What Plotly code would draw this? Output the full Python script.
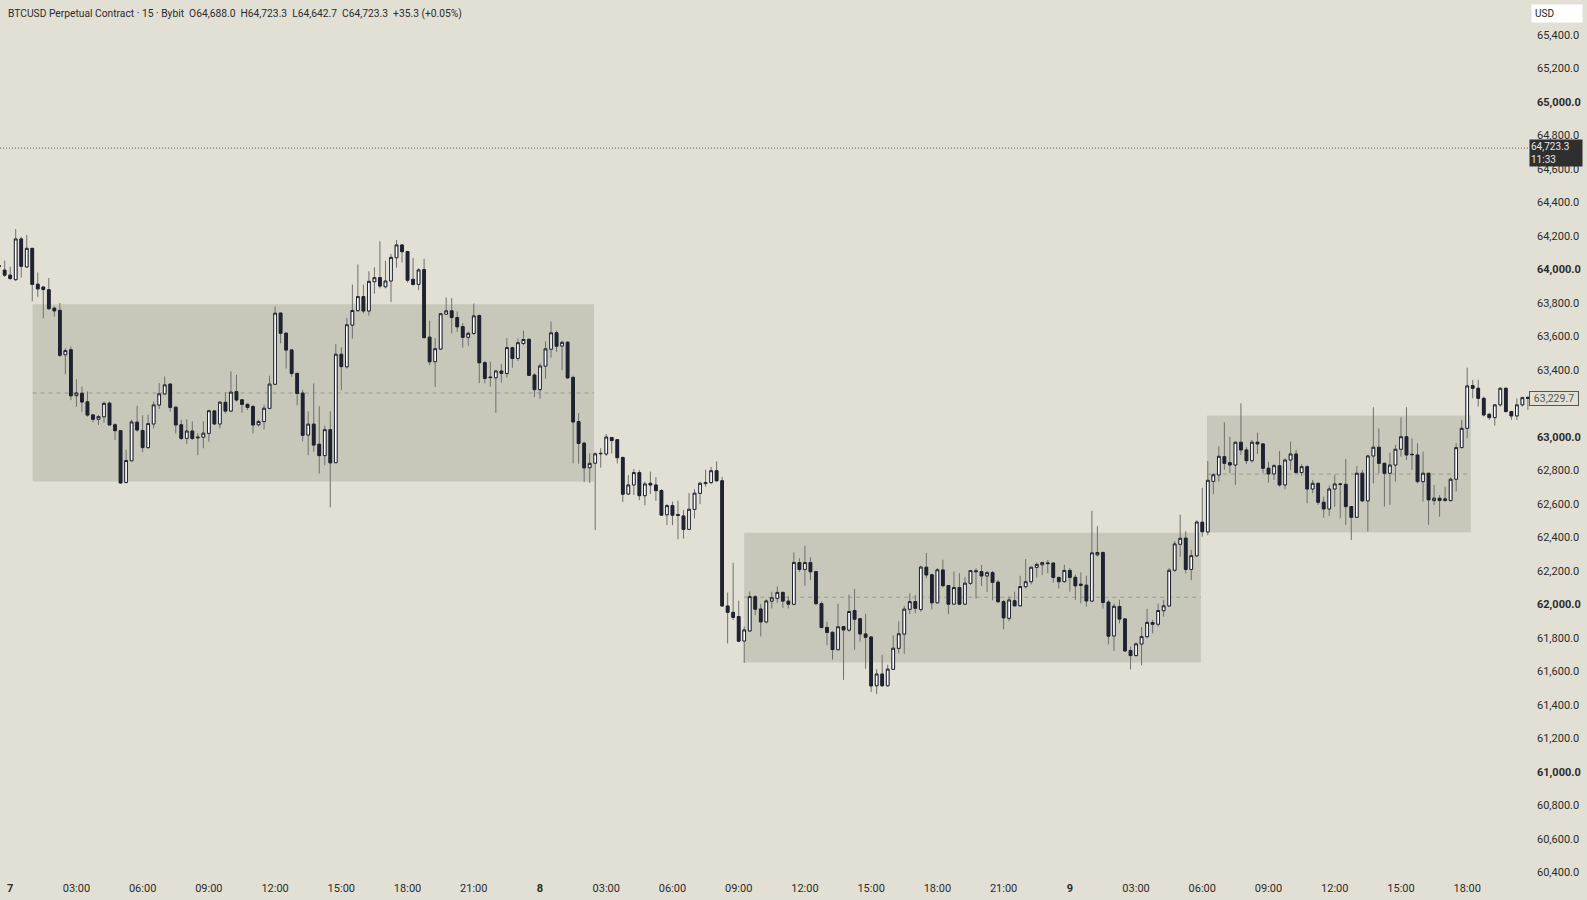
import pandas as pd
import plotly.graph_objects as go

# 15 minute BTCUSD candles (Oct 6 23:30 -> Oct 9 20:45)
open_ = [64016, 63995, 63965, 63938, 64181, 64014, 64125, 63911, 63894, 63878,
         63768, 63755, 63490, 63520, 63246, 63260, 63209, 63131, 63105, 63120,
         63201, 63072, 63037, 62728, 62857, 63088, 63038, 62936, 63077, 63190,
         63256, 63315, 63177, 63072, 62991, 63035, 62994, 62998, 63021, 63155,
         63077, 63206, 63154, 63270, 63221, 63194, 63181, 63072, 63091, 63170,
         63314, 63739, 63619, 63519, 63379, 63261, 63011, 63076, 62956, 62888,
         63043, 62846, 63493, 63418, 63667, 63753, 63837, 63751, 63926, 63950,
         63896, 63930, 64069, 64145, 64106, 63940, 63910, 63998, 63595, 63449,
         63524, 63732, 63752, 63712, 63658, 63594, 63617, 63724, 63443, 63357,
         63353, 63393, 63378, 63532, 63468, 63557, 63582, 63369, 63282, 63422,
         63523, 63621, 63542, 63565, 63355, 63091, 62962, 62816, 62843, 62902,
         62898, 62996, 62983, 62877, 62659, 62713, 62787, 62649, 62723, 62713,
         62680, 62535, 62590, 62536, 62528, 62448, 62567, 62663, 62721, 62727,
         62798, 62738, 61991, 61953, 61928, 61782, 61842, 62046, 61973, 61896,
         62020, 62036, 62072, 62020, 62001, 62250, 62209, 62250, 62196, 62005,
         61863, 61834, 61730, 61868, 61847, 61964, 61915, 61824, 61806, 61515,
         61585, 61515, 61613, 61738, 61823, 61971, 62017, 61970, 62222, 62177,
         62010, 62206, 62113, 62002, 62101, 62002, 62126, 62195, 62196, 62170,
         62190, 62133, 62017, 61917, 62022, 61992, 62106, 62136, 62221, 62237,
         62248, 62247, 62161, 62136, 62203, 62162, 62121, 62115, 62020, 62296,
         62310, 62014, 61812, 61988, 61914, 61725, 61695, 61764, 61808, 61892,
         61882, 61963, 61991, 62204, 62359, 62396, 62209, 62290, 62491, 62433,
         62734, 62773, 62882, 62846, 62832, 62968, 62922, 62858, 62968, 62958,
         62813, 62779, 62828, 62713, 62862, 62898, 62787, 62822, 62689, 62723,
         62610, 62570, 62689, 62719, 62717, 62584, 62520, 62783, 62618, 62886,
         62938, 62842, 62783, 62832, 62926, 63001, 62896, 62892, 62733, 62783,
         62620, 62634, 62620, 62620, 62747, 62936, 63051, 63306, 63290, 63230,
         63135, 63115, 63191, 63290, 63151, 63125, 63191, 63236]
high = [64036, 64052, 64015, 64240, 64195, 64205, 64125, 63981, 63898, 63948,
        63778, 63799, 63529, 63540, 63344, 63300, 63271, 63131, 63131, 63211,
        63212, 63082, 63039, 62924, 63103, 63186, 63129, 63133, 63212, 63321,
        63360, 63321, 63181, 63102, 63106, 63092, 63022, 63093, 63162, 63155,
        63212, 63265, 63392, 63370, 63221, 63200, 63191, 63102, 63191, 63365,
        63778, 63739, 63619, 63519, 63379, 63281, 63152, 63319, 63183, 63067,
        63153, 63553, 63534, 63710, 63909, 64029, 63908, 63988, 64012, 64167,
        64051, 64091, 64175, 64149, 64110, 64067, 64006, 64063, 63693, 63590,
        63739, 63832, 63828, 63748, 63678, 63628, 63796, 63730, 63453, 63449,
        63399, 63435, 63589, 63538, 63588, 63634, 63588, 63379, 63439, 63569,
        63688, 63634, 63574, 63569, 63365, 63142, 62972, 62902, 62907, 62932,
        63017, 62996, 62983, 62883, 62773, 62808, 62803, 62733, 62793, 62759,
        62688, 62600, 62614, 62619, 62564, 62665, 62688, 62733, 62804, 62820,
        62854, 62760, 62071, 62249, 62022, 61868, 62077, 62056, 62003, 62031,
        62076, 62107, 62076, 62050, 62311, 62276, 62350, 62282, 62200, 62017,
        61897, 61838, 62004, 61868, 62058, 62093, 61919, 61945, 61810, 61614,
        61700, 61640, 61816, 61899, 61992, 62067, 62057, 62231, 62307, 62183,
        62217, 62267, 62117, 62197, 62187, 62163, 62206, 62216, 62236, 62200,
        62200, 62147, 62027, 62047, 62076, 62171, 62271, 62226, 62250, 62256,
        62266, 62251, 62167, 62237, 62217, 62178, 62192, 62172, 62559, 62467,
        62317, 62028, 62005, 62028, 61918, 61749, 61773, 61865, 61973, 61908,
        62005, 62028, 62218, 62377, 62536, 62436, 62326, 62502, 62696, 62856,
        62784, 62944, 63087, 63001, 62972, 63200, 62938, 62982, 63025, 62962,
        62852, 62838, 62916, 62872, 62972, 62922, 62836, 62832, 62743, 62727,
        62643, 62709, 62773, 62723, 62868, 62584, 62826, 62803, 62892, 63177,
        63051, 62846, 62906, 62952, 63117, 63177, 62992, 62962, 62912, 62783,
        62713, 62654, 62703, 62757, 62962, 63101, 63413, 63340, 63340, 63240,
        63141, 63195, 63294, 63294, 63155, 63230, 63240, 63240]
low = [64006, 63955, 63935, 63930, 63950, 64010, 63809, 63836, 63707, 63757,
       63718, 63477, 63374, 63219, 63179, 63149, 63120, 63087, 63071, 63084,
       63071, 62981, 62721, 62722, 62857, 63031, 62908, 62928, 63051, 63166,
       63250, 63150, 63020, 62981, 62957, 62981, 62892, 62932, 62971, 63071,
       63051, 63140, 63150, 63210, 63144, 63160, 63020, 63062, 63044, 63164,
       63310, 63558, 63408, 63358, 63188, 62973, 62891, 62911, 62781, 62831,
       62580, 62846, 63278, 63408, 63587, 63747, 63737, 63723, 63855, 63886,
       63886, 63805, 64010, 64041, 63921, 63902, 63876, 63592, 63428, 63298,
       63518, 63728, 63617, 63627, 63532, 63544, 63607, 63321, 63319, 63299,
       63144, 63323, 63354, 63413, 63453, 63547, 63367, 63238, 63228, 63348,
       63473, 63507, 63397, 63348, 62842, 62840, 62730, 62725, 62444, 62816,
       62886, 62901, 62842, 62611, 62653, 62653, 62622, 62592, 62659, 62618,
       62533, 62473, 62473, 62389, 62393, 62444, 62513, 62599, 62703, 62719,
       62733, 61987, 61767, 61907, 61777, 61651, 61836, 61936, 61810, 61886,
       61976, 62010, 61980, 61976, 61995, 62195, 62111, 62145, 61995, 61862,
       61757, 61671, 61726, 61550, 61837, 61730, 61778, 61617, 61478, 61465,
       61509, 61509, 61609, 61708, 61706, 61943, 61947, 61956, 62156, 61970,
       62006, 62102, 61942, 61996, 61996, 61996, 62116, 62035, 62110, 62075,
       62025, 62010, 61852, 61900, 61986, 61986, 62096, 62120, 62161, 62175,
       62186, 62130, 62096, 62130, 62076, 62027, 62007, 61987, 62016, 62286,
       61976, 61762, 61723, 61887, 61717, 61612, 61689, 61637, 61798, 61828,
       61868, 61927, 61987, 62194, 62284, 62185, 62145, 62284, 62404, 62413,
       62658, 62733, 62803, 62783, 62713, 62892, 62838, 62846, 62898, 62783,
       62727, 62743, 62703, 62687, 62803, 62783, 62767, 62604, 62663, 62594,
       62518, 62528, 62584, 62514, 62474, 62385, 62520, 62614, 62435, 62723,
       62783, 62584, 62594, 62733, 62882, 62862, 62803, 62723, 62614, 62475,
       62594, 62524, 62614, 62614, 62674, 62932, 62992, 63230, 63181, 63121,
       63101, 63067, 63181, 63147, 63101, 63101, 63181, 63161]
close = [64021, 63965, 63945, 64181, 64018, 64125, 63910, 63883, 63879, 63765,
         63752, 63487, 63515, 63245, 63262, 63208, 63130, 63105, 63121, 63200,
         63071, 63037, 62725, 62859, 63089, 63041, 62936, 63079, 63191, 63257,
         63310, 63176, 63071, 62991, 63035, 62991, 62998, 63022, 63156, 63077,
         63207, 63154, 63267, 63220, 63194, 63176, 63071, 63092, 63171, 63315,
         63738, 63618, 63518, 63378, 63259, 63009, 63076, 62951, 62888, 63043,
         62845, 63493, 63419, 63669, 63754, 63837, 63751, 63928, 63950, 63900,
         63930, 64071, 64145, 64105, 63935, 63910, 63996, 63592, 63448, 63526,
         63735, 63752, 63712, 63657, 63594, 63618, 63722, 63442, 63349, 63354,
         63393, 63379, 63533, 63468, 63562, 63581, 63367, 63282, 63423, 63525,
         63621, 63541, 63564, 63352, 63089, 62961, 62815, 62842, 62899, 62900,
         62999, 62978, 62876, 62658, 62713, 62787, 62649, 62719, 62713, 62679,
         62533, 62590, 62533, 62532, 62448, 62568, 62664, 62723, 62727, 62798,
         62738, 61991, 61953, 61923, 61781, 61848, 62047, 61972, 61896, 62021,
         62040, 62072, 62020, 62002, 62251, 62209, 62250, 62195, 62005, 61862,
         61833, 61731, 61867, 61848, 61958, 61912, 61824, 61804, 61514, 61585,
         61515, 61614, 61739, 61825, 61972, 62017, 61977, 62223, 62176, 62010,
         62207, 62112, 62002, 62101, 62002, 62127, 62202, 62200, 62170, 62190,
         62132, 62016, 61920, 62027, 61992, 62107, 62136, 62222, 62239, 62250,
         62244, 62161, 62136, 62203, 62161, 62111, 62115, 62021, 62308, 62310,
         62012, 61811, 61989, 61913, 61723, 61695, 61765, 61808, 61893, 61882,
         61964, 61992, 62204, 62361, 62395, 62209, 62291, 62492, 62434, 62741,
         62774, 62884, 62842, 62832, 62968, 62922, 62858, 62968, 62958, 62813,
         62779, 62828, 62713, 62862, 62898, 62787, 62822, 62689, 62723, 62610,
         62570, 62689, 62719, 62717, 62584, 62520, 62783, 62618, 62886, 62938,
         62842, 62783, 62832, 62926, 63001, 62892, 62894, 62733, 62783, 62624,
         62634, 62620, 62630, 62747, 62936, 63051, 63304, 63290, 63230, 63131,
         63115, 63191, 63290, 63151, 63125, 63191, 63234, 63229.7]
times = pd.date_range("2024-10-06 23:30", periods=len(close), freq="15min")

# consolidation boxes: start, end, top, bottom
box_start = ["2024-10-07 01:01", "2024-10-08 09:15", "2024-10-09 06:13"]
box_end = ["2024-10-08 02:27", "2024-10-09 05:56", "2024-10-09 18:10"]
box_top = [63791, 62428, 63127]
box_bottom = [62733, 61653, 62429]
box_mid = [63262, 62043, 62778]

last_price = 63229.7
marker_price = 64723.3
header = ("BTCUSD Perpetual Contract · 15 · Bybit  O64,688.0  H64,723.3  "
          "L64,642.7  C64,723.3  +35.3 (+0.05%)")

x_ticks = pd.date_range("2024-10-07 00:00", "2024-10-09 18:00", freq="3h")
x_labels = ["<b>%d</b>" % t.day if t.hour == 0 else t.strftime("%H:%M") for t in x_ticks]
# 63,200 sits under the last-price label, so the chart leaves it out
y_ticks = [v for v in range(60400, 65401, 200) if v != 63200]
y_labels = ["<b>{:,.1f}</b>".format(v) if v % 1000 == 0 else "{:,.1f}".format(v) for v in y_ticks]

BG = "#e2e0d4"
FONT = "Roboto"

fig = go.Figure()

# wicks (grey) drawn first, bodies with dark outline on top
body_hi = [max(o, c) for o, c in zip(open_, close)]
body_lo = [min(o, c) for o, c in zip(open_, close)]
fig.add_trace(go.Candlestick(
    x=times, open=open_, high=high, low=low, close=close,
    increasing=dict(line=dict(color="#6f6f6f", width=1), fillcolor="#ffffff"),
    decreasing=dict(line=dict(color="#6f6f6f", width=1), fillcolor="#1f2230"),
    showlegend=False, hoverinfo="skip"))
fig.add_trace(go.Candlestick(
    x=times, open=open_, high=body_hi, low=body_lo, close=close,
    increasing=dict(line=dict(color="#1f2230", width=1), fillcolor="#ffffff"),
    decreasing=dict(line=dict(color="#1f2230", width=1), fillcolor="#1f2230"),
    showlegend=False, hoverinfo="skip"))

for x0, x1, top, bot, mid in zip(box_start, box_end, box_top, box_bottom, box_mid):
    fig.add_shape(type="rect", x0=x0, x1=x1, y0=bot, y1=top, layer="below",
                  fillcolor="#c7c8ba", line=dict(width=0))
    fig.add_shape(type="line", x0=x0, x1=x1, y0=mid, y1=mid, layer="below",
                  line=dict(color="#9a9a8f", width=1, dash="4px,4px"))

fig.add_shape(type="line", xref="paper", x0=0, x1=1, y0=marker_price, y1=marker_price,
              line=dict(color="#555555", width=1, dash="1px,2px"))

fig.add_annotation(text=header, xref="paper", yref="paper", x=0, y=1,
                   xanchor="left", yanchor="top", xshift=6, yshift=-5, showarrow=False,
                   font=dict(family=FONT, size=10.25, color="#2b2b2b"))
fig.add_annotation(text="USD", xref="paper", yref="paper", x=1, y=1,
                   xanchor="left", yanchor="top", xshift=1, yshift=-4, showarrow=False,
                   width=44, align="left", bgcolor="#ffffff", borderpad=3,
                   font=dict(family=FONT, size=10, color="#222222"))
fig.add_annotation(text="64,723.3<br>11:33", xref="paper", yref="y", x=1, y=marker_price,
                   xanchor="left", yanchor="middle", xshift=-1, yshift=-5, showarrow=False,
                   width=50, align="left", bgcolor="#2f2f2f", borderpad=1,
                   font=dict(family=FONT, size=10, color="#e8e8e8"))
fig.add_annotation(text="{:,.1f}".format(last_price), xref="paper", yref="y", x=1, y=last_price,
                   xanchor="left", yanchor="middle", xshift=-1, showarrow=False,
                   width=48, align="center", bgcolor=BG, bordercolor="#555555",
                   borderwidth=1, borderpad=0,
                   font=dict(family=FONT, size=10.5, color="#555555"))

fig.update_layout(
    template="none", width=1587, height=900,
    margin=dict(l=0, r=57, t=0, b=20),
    paper_bgcolor=BG, plot_bgcolor=BG,
    font=dict(family=FONT, size=11, color="#2b2b2b"),
    xaxis=dict(type="date", rangeslider=dict(visible=False),
               range=["2024-10-06 23:32:20", "2024-10-09 20:50:42"],
               tickvals=x_ticks, ticktext=x_labels, ticks="", showgrid=False,
               zeroline=False, showline=False, automargin=False,
               tickfont=dict(family=FONT, size=11, color="#2b2b2b")),
    yaxis=dict(side="right", range=[60355.9, 65606.8], tickvals=y_ticks, ticktext=y_labels,
               ticks="", ticklabelstandoff=6, showgrid=False, zeroline=False,
               showline=False, automargin=False,
               tickfont=dict(family=FONT, size=11, color="#2b2b2b")),
)

fig.write_html("out.html", config={"displayModeBar": False},
               post_script="document.body.style.margin='0px';")
